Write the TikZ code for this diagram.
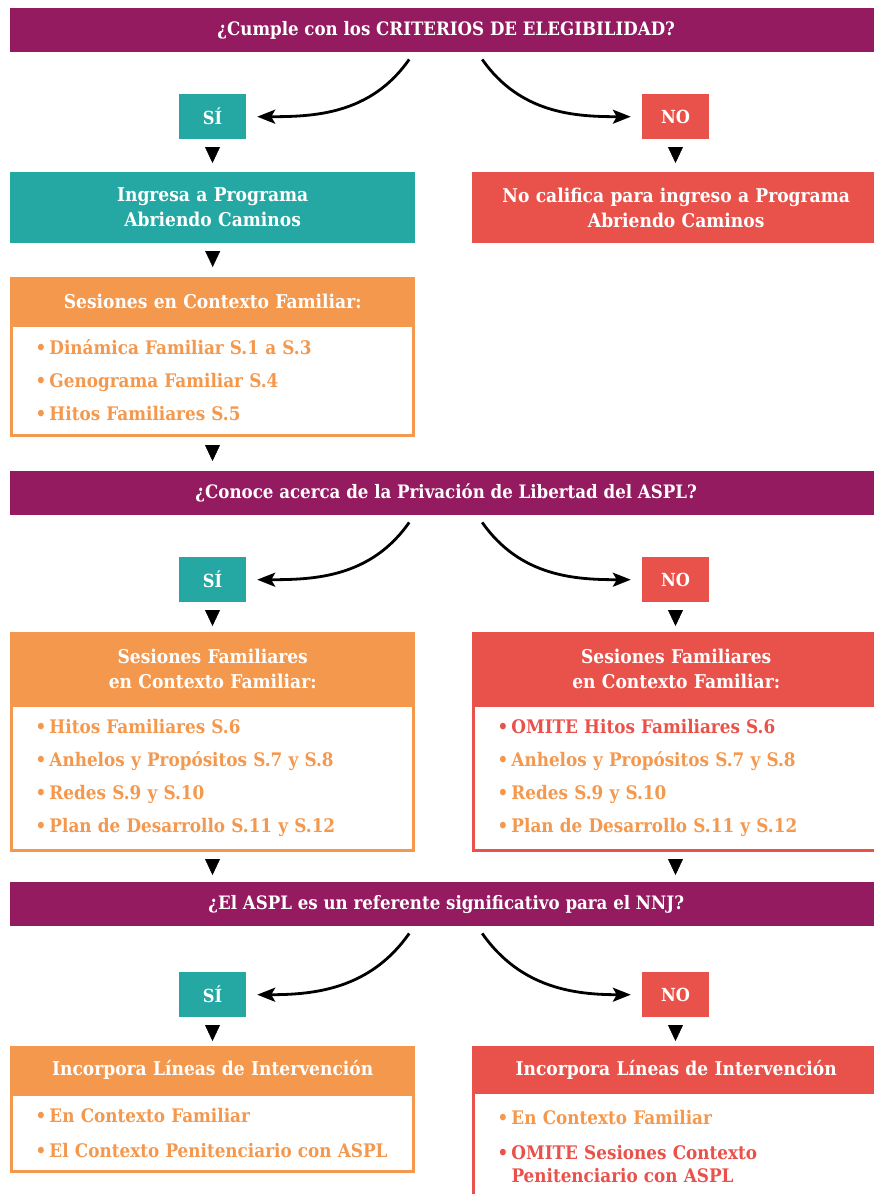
\documentclass[tikz,border=0pt]{standalone}
\usepackage{fontspec}
\setmainfont{DejaVu Serif Condensed}[BoldFont={DejaVu Serif Condensed Bold}]
\usetikzlibrary{arrows.meta}

\definecolor{qpurple}{RGB}{148,27,96}
\definecolor{siteal}{RGB}{37,168,164}
\definecolor{nored}{RGB}{233,82,74}
\definecolor{sorange}{RGB}{244,152,78}

\newcommand{\itm}{\makebox[14pt][l]{\textbullet}}

\begin{document}
\begin{tikzpicture}[x=1pt,y=-1pt]
\tikzset{
  question/.style={fill=qpurple, text=white, anchor=north west, inner sep=0pt,
    minimum width=872pt, minimum height=44pt, font=\bfseries\fontsize{18.5}{20}\selectfont},
  answer/.style={fill=#1, text=white, anchor=north, inner sep=0pt,
    minimum width=67pt, minimum height=45pt, font=\bfseries\fontsize{18}{20}\selectfont},
  header/.style={text=white, anchor=north west, inner sep=0pt, align=center,
    text width=#1, minimum width=#1, font=\bfseries\fontsize{19}{25}\selectfont},
  body/.style={draw=#1, line width=3pt, fill=white, anchor=north west, text=sorange,
    inner xsep=24pt, inner ysep=0pt, align=left, font=\bfseries\fontsize{18.7}{33}\selectfont},
  branch/.style={-{Stealth[length=18pt,width=14pt,inset=4pt]}, line width=2.8pt, shorten >=11pt},
  pointer/.style={-{Triangle[length=16pt,width=15pt]}, line width=0.4pt, shorten <=8pt, shorten >=#1}
}
\useasboundingbox (0,0) rectangle (873,1194);

% first question
\node[question] (q1) at (10,8) {¿Cumple con los CRITERIOS DE ELEGIBILIDAD?};
\node[answer=siteal] (si1) at (212.5,94) {SÍ};
\node[answer=nored] (no1) at (675.5,94) {NO};
\node[header=405pt, fill=siteal, minimum height=71pt] (ingresa) at (10,172) {Ingresa a Programa\\Abriendo Caminos};
\node[header=408pt, fill=nored, minimum height=71pt] (nocalifica) at (472,172) {No califica para ingreso a Programa\\Abriendo Caminos};
\node[body=sorange, text width=354pt, minimum height=110pt] (ses1) at (10,324)
  {\itm Dinámica Familiar S.1 a S.3\\\itm Genograma Familiar S.4\\\itm Hitos Familiares S.5};
\node[header=405pt, fill=sorange, minimum height=48pt] (ses1h) at (10,277) {Sesiones en Contexto Familiar:};

% second question
\node[question] (q2) at (10,471) {¿Conoce acerca de la Privación de Libertad del ASPL?};
\node[answer=siteal] (si2) at (212.5,557) {SÍ};
\node[answer=nored] (no2) at (675.5,557) {NO};
\node[body=sorange, text width=354pt, minimum height=145pt] (ses2) at (10,704)
  {\itm Hitos Familiares S.6\\\itm Anhelos y Propósitos S.7 y S.8\\\itm Redes S.9 y S.10\\\itm Plan de Desarrollo S.11 y S.12};
\node[header=405pt, fill=sorange, minimum height=73pt] (ses2h) at (10,632) {Sesiones Familiares\\en Contexto Familiar:};
\node[body=nored, text width=357pt, minimum height=145pt] (omi2) at (472,704)
  {\textcolor{nored}{\itm OMITE Hitos Familiares S.6}\\\itm Anhelos y Propósitos S.7 y S.8\\\itm Redes S.9 y S.10\\\itm Plan de Desarrollo S.11 y S.12};
\node[header=408pt, fill=nored, minimum height=73pt] (omi2h) at (472,632) {Sesiones Familiares\\en Contexto Familiar:};

% third question
\node[question] (q3) at (10,882) {¿El ASPL es un referente significativo para el NNJ?};
\node[answer=siteal] (si3) at (212.5,972) {SÍ};
\node[answer=nored] (no3) at (675.5,972) {NO};
\node[body=sorange, text width=354pt, minimum height=77pt] (inc3) at (10,1093)
  {\itm En Contexto Familiar\\[2pt]\itm El Contexto Penitenciario con ASPL};
\node[header=405pt, fill=sorange, minimum height=48pt] (inc3h) at (10,1046) {Incorpora Líneas de Intervención};
\node[body=nored, text width=357pt, minimum height=108pt] (omi3) at (472,1091)
  {\itm En Contexto Familiar\\[2pt]\textcolor{nored}{\itm OMITE Sesiones Contexto}\\[-10pt]\textcolor{nored}{\hspace*{14pt}Penitenciario con ASPL}};
\node[header=408pt, fill=nored, minimum height=48pt] (omi3h) at (472,1046) {Incorpora Líneas de Intervención};

% branches
\draw[branch] ([xshift=-37pt,yshift=-7pt]q1.south) to[out=-125,in=0] (si1.east);
\draw[branch] ([xshift=36pt,yshift=-7pt]q1.south) to[out=-55,in=180] (no1.west);
\draw[branch] ([xshift=-37pt,yshift=-7pt]q2.south) to[out=-125,in=0] (si2.east);
\draw[branch] ([xshift=36pt,yshift=-7pt]q2.south) to[out=-55,in=180] (no2.west);
\draw[branch] ([xshift=-37pt,yshift=-7pt]q3.south) to[out=-125,in=0] (si3.east);
\draw[branch] ([xshift=36pt,yshift=-7pt]q3.south) to[out=-55,in=180] (no3.west);

% pointers
\draw[pointer=9pt] (si1.south) -- (ingresa.north -| si1.south);
\draw[pointer=9pt] (no1.south) -- (nocalifica.north -| no1.south);
\draw[pointer=10pt] (ingresa.south) -- (ses1h.north);
\draw[pointer=10pt] (ses1.south) -- (q2.north -| ses1.south);
\draw[pointer=6pt] (si2.south) -- (ses2h.north -| si2.south);
\draw[pointer=6pt] (no2.south) -- (omi2h.north -| no2.south);
\draw[pointer=7pt] (ses2.south) -- (q3.north -| ses2.south);
\draw[pointer=7pt] (no2.south |- omi2.south) -- (q3.north -| no2.south);
\draw[pointer=5pt] (si3.south) -- (inc3h.north -| si3.south);
\draw[pointer=5pt] (no3.south) -- (omi3h.north -| no3.south);
\end{tikzpicture}
\end{document}
